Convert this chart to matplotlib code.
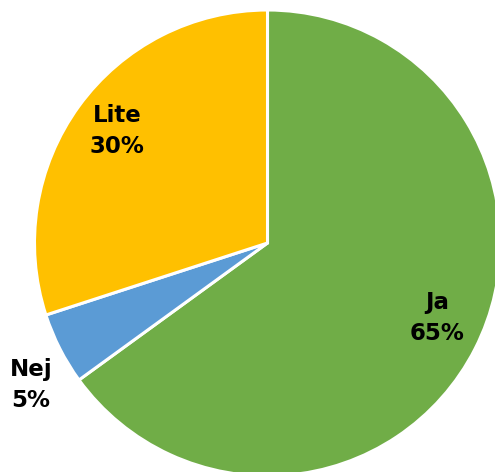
import matplotlib.pyplot as plt

labels = ["Ja", "Nej", "Lite"]
shares = [65, 5, 30]
colors = ["#70AD47", "#5B9BD5", "#FFC000"]


def main():
    fig = plt.figure(figsize=(4.95, 4.72), dpi=100)
    ax = fig.add_axes([0, 0, 1, 1])

    cx, cy, r = 267.5, 229, 233
    ax.pie(
        shares,
        colors=colors,
        startangle=90,
        counterclock=False,
        center=(cx, cy),
        radius=r,
        wedgeprops=dict(edgecolor="white", linewidth=2.2),
        frame=True,
    )
    ax.set_xlim(0, 495)
    ax.set_ylim(0, 472)
    ax.set_aspect("equal")
    ax.axis("off")

    # label centres in pixels (from top-left)
    label_pos = {"Ja": (437, 318), "Nej": (31, 385), "Lite": (117, 131)}
    for lab, val in zip(labels, shares):
        px, py = label_pos[lab]
        ax.text(px, 472 - py, f"{lab}\n{val}%", ha="center", va="center",
                fontsize=16.5, fontweight="bold", family="DejaVu Sans",
                linespacing=1.45, color="black")

    fig.savefig("out.png", dpi=100)


if __name__ == "__main__":
    main()
